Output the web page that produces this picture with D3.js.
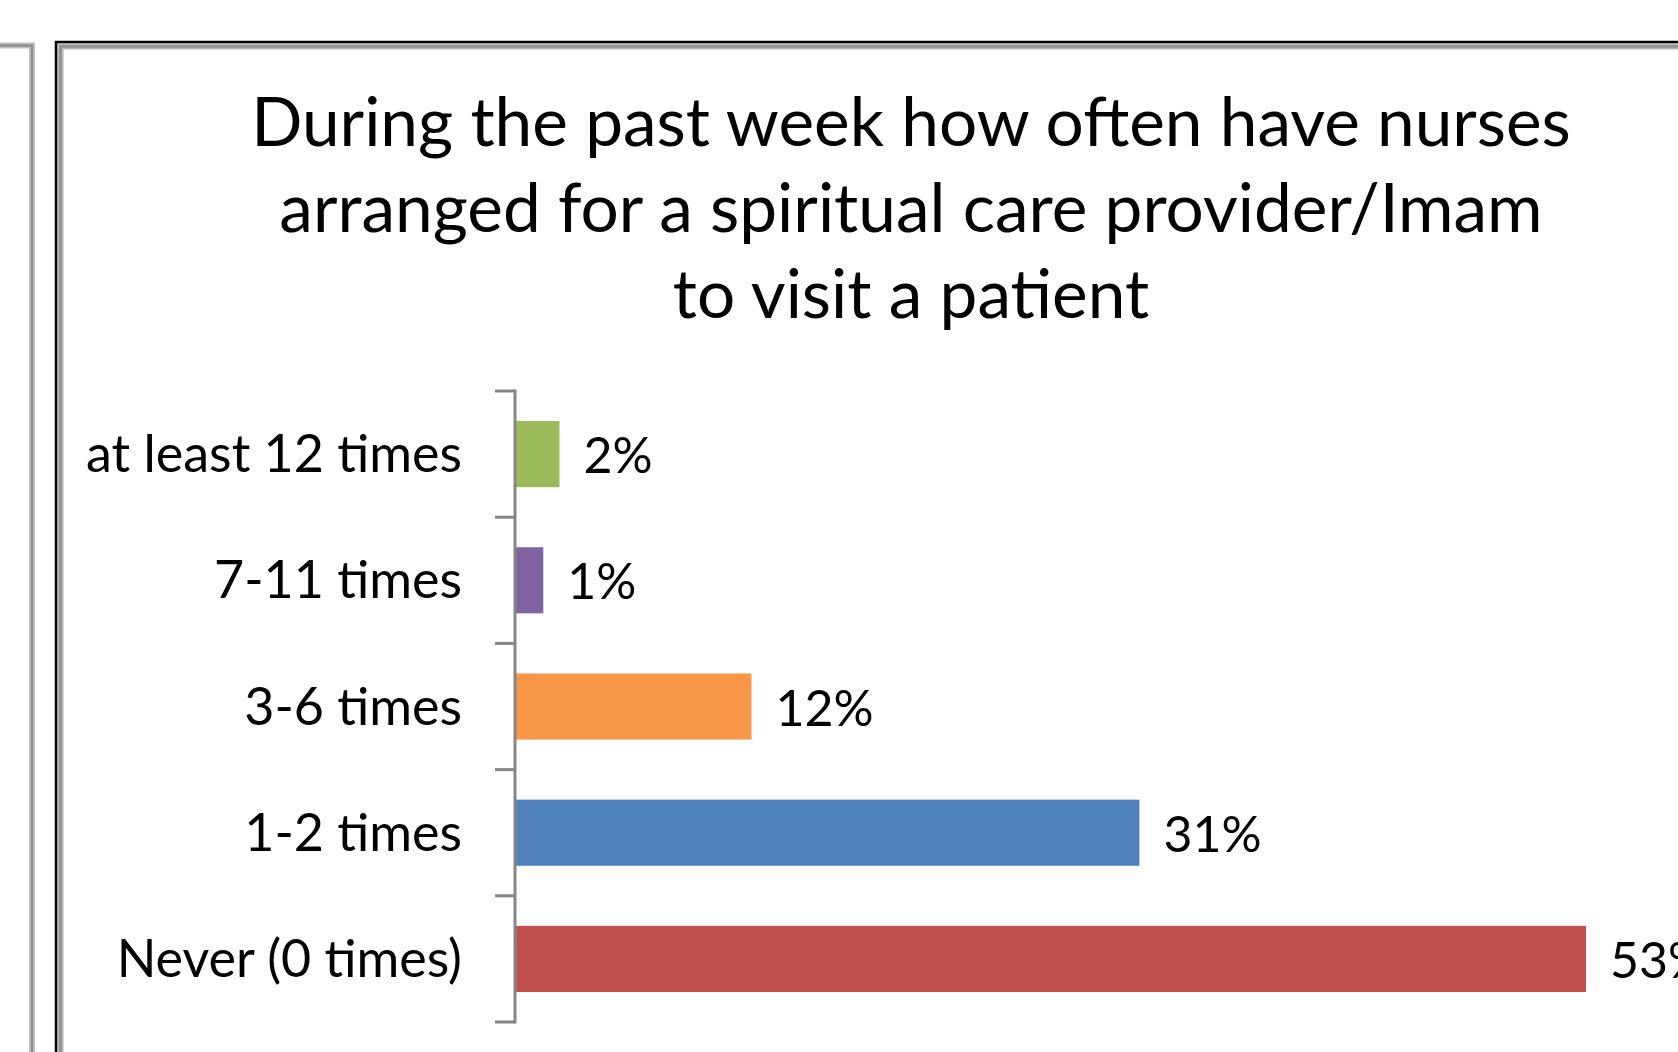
<!DOCTYPE html>
<html>
<head>
<meta charset="utf-8">
<script src="https://cdn.jsdelivr.net/npm/d3@7"></script>
<style>
  body { margin: 0; background: #fff; }
  text { font-family: Lato, "Open Sans", sans-serif; fill: #000; }
</style>
</head>
<body>
<script>
// chart data, bottom to top as excel lists them
var categories = ["Never (0 times)", "1-2 times", "3-6 times", "7-11 times", "at least 12 times"];
var values = [53.0, 30.9, 11.7, 1.4, 2.2];
var valueLabels = ["53%", "31%", "12%", "1%", "2%"];
var barColors = ["#C0504D", "#4F81BD", "#F79646", "#8064A2", "#9BBB59"];
var titleLines = [
  "During the past week how often have nurses",
  "arranged for a spiritual care provider/Imam",
  "to visit a patient"
];

var W = 1678, H = 1052;

var svg = d3.select("body").append("svg")
  .attr("width", W)
  .attr("height", H);

// frames - a bit of the neighbouring chart on the left, and this chart's border
svg.append("path")
  .attr("d", "M0,45.5 H32 V" + H)
  .style("fill", "none").style("stroke", "#bdbdbd").style("stroke-width", 6);
svg.append("path")
  .attr("d", "M0,45.5 H32 V" + H)
  .style("fill", "none").style("stroke", "#8a8a8a").style("stroke-width", 2);

svg.append("path")
  .attr("d", "M60.5," + H + " V46.5 H" + W)
  .style("fill", "none").style("stroke", "#b5b5b5").style("stroke-width", 6);
svg.append("path")
  .attr("d", "M60.5," + H + " V46.5 H" + W)
  .style("fill", "none").style("stroke", "#8a8a8a").style("stroke-width", 2);
svg.append("path")
  .attr("d", "M56," + H + " V42 H" + W)
  .style("fill", "none").style("stroke", "#000").style("stroke-width", 2.5);

// title
svg.append("g").selectAll("text")
  .data(titleLines)
  .enter()
  .append("text")
  .attr("x", 911)
  .attr("y", function(d, i){ return 146 + i * 86; })
  .attr("text-anchor", "middle")
  .style("font-size", "67.5px")
  .text(function(d){ return d; });

// scales
var order = categories.slice().reverse(); // top row first
var y = d3.scaleBand()
  .domain(order)
  .range([391, 1022])
  .paddingInner(0.476)
  .paddingOuter(0.238);

var yEdges = d3.scaleBand()
  .domain(order)
  .range([391, 1022])
  .padding(0);

var x = d3.scaleLinear()
  .domain([0, 53])
  .range([515, 1586]);

// bars
svg.append("g").selectAll("rect")
  .data(values)
  .enter()
  .append("rect")
  .attr("x", x(0))
  .attr("y", function(d, i){ return y(categories[i]); })
  .attr("width", function(d){ return x(d) - x(0); })
  .attr("height", y.bandwidth())
  .style("fill", function(d, i){ return barColors[i]; });

// value labels
svg.append("g").selectAll("text")
  .data(values)
  .enter()
  .append("text")
  .attr("x", function(d){ return x(d) + 24; })
  .attr("y", function(d, i){ return y(categories[i]) + y.bandwidth() / 2 + 19; })
  .style("font-size", "50px")
  .text(function(d, i){ return valueLabels[i]; });

// category axis: labels through d3.axisLeft, ticks at band edges
var axis = d3.axisLeft(y).tickSize(0).tickPadding(53);
var ax = svg.append("g")
  .attr("transform", "translate(" + x(0) + ",0)")
  .call(axis);
ax.select(".domain").remove();
ax.selectAll("text")
  .attr("dy", null)
  .attr("y", 18)
  .style("font-size", "52px")
  .style("font-family", "Lato, 'Open Sans', sans-serif")
  .style("fill", "#000");

var edges = order.map(function(c){ return yEdges(c); }).concat([yEdges.range()[1]]);
svg.append("g").selectAll("line")
  .data(edges)
  .enter()
  .append("line")
  .attr("x1", x(0) - 20)
  .attr("x2", x(0))
  .attr("y1", function(d){ return d; })
  .attr("y2", function(d){ return d; })
  .style("stroke", "#868686")
  .style("stroke-width", 3);

svg.append("line")
  .attr("x1", x(0)).attr("x2", x(0))
  .attr("y1", 391 - 1.5).attr("y2", 1022 + 1.5)
  .style("stroke", "#868686")
  .style("stroke-width", 3);
</script>
</body>
</html>
